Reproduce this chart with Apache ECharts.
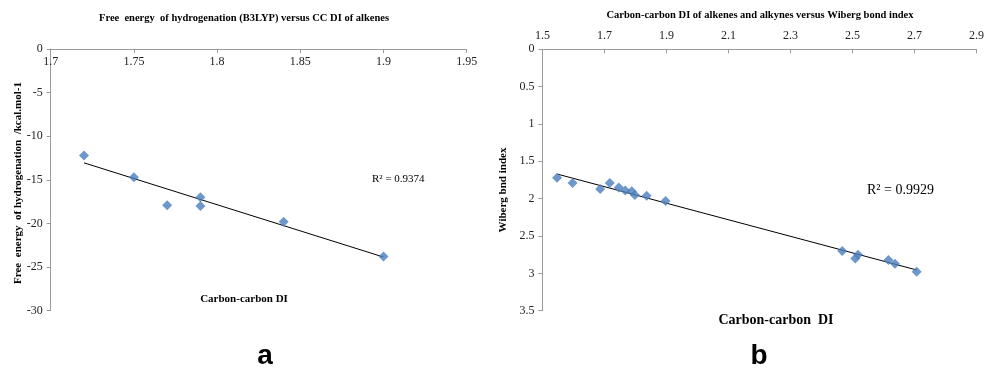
<!DOCTYPE html>
<html>
<head>
<meta charset="utf-8">
<script src="https://cdn.jsdelivr.net/npm/echarts@6/dist/echarts.min.js"></script>
<style>
html,body{margin:0;padding:0;background:#fff;}
#c{width:987px;height:368px;}
</style>
</head>
<body>
<div id="c"></div>
<script>
// Chart a: free energy of hydrogenation vs CC DI of alkenes
var xA = [1.72, 1.75, 1.77, 1.79, 1.79, 1.84, 1.90];
var yA = [-12.2, -14.7, -17.9, -17.0, -18.0, -19.8, -23.8];
var trendAx = [1.72, 1.90];
var trendAy = [-13.05, -23.85];
var r2A = 'R² = 0.9374';

// Chart b: CC DI vs Wiberg bond index
var xB = [1.547, 1.597, 1.686, 1.717, 1.746, 1.767, 1.788, 1.798, 1.836, 1.897, 2.467, 2.509, 2.518, 2.616, 2.637, 2.707];
var yB = [1.72, 1.79, 1.87, 1.79, 1.85, 1.89, 1.90, 1.95, 1.96, 2.03, 2.70, 2.80, 2.75, 2.82, 2.87, 2.98];
var trendBx = [1.547, 2.707];
var trendBy = [1.67, 2.955];
var r2B = 'R² = 0.9929';

var titleA = 'Free  energy  of hydrogenation (B3LYP) versus CC DI of alkenes';
var titleB = 'Carbon-carbon DI of alkenes and alkynes versus Wiberg bond index';
var yNameA = 'Free  energy  of hydrogenation  /kcal.mol-1';
var yNameB = 'Wiberg bnd index';
var xNameA = 'Carbon-carbon DI';
var xNameB = 'Carbon-carbon  DI';

function pairs(xs, ys){ return xs.map(function(x,i){ return [x, ys[i]]; }); }

var serif = '"Liberation Serif", "Times New Roman", serif';
var axisLineStyle = {color:'#9a9a9a', width:1};
var labelStyle = {fontFamily: serif, fontSize: 12, color:'#222'};
function fmt(v){ return String(parseFloat(v.toFixed(2))); }

var chart = echarts.init(document.getElementById('c'), null, {renderer:'canvas'});
chart.setOption({
  animation:false,
  backgroundColor:'#fff',
  grid:[
    {left:50.7, top:49, width:416, height:261.7},
    {left:542.5, top:49.3, width:438, height:261.4}
  ],
  xAxis:[
    {gridIndex:0, type:'value', position:'top', min:1.7, max:1.95, interval:0.05,
     axisLine:{show:true, onZero:false, lineStyle:axisLineStyle},
     axisTick:{show:true, inside:true, length:4, lineStyle:axisLineStyle},
     axisLabel:Object.assign({inside:true, margin:7, formatter:fmt}, labelStyle),
     splitLine:{show:false}},
    {gridIndex:1, type:'value', position:'top', min:1.5, max:2.9, interval:0.2,
     axisLine:{show:true, onZero:false, lineStyle:axisLineStyle},
     axisTick:{show:true, inside:true, length:4, lineStyle:axisLineStyle},
     axisLabel:Object.assign({margin:7, formatter:fmt}, labelStyle),
     splitLine:{show:false}}
  ],
  yAxis:[
    {gridIndex:0, type:'value', min:-30, max:0, interval:5,
     axisLine:{show:true, onZero:false, lineStyle:axisLineStyle},
     axisTick:{show:true, length:4, lineStyle:axisLineStyle},
     axisLabel:Object.assign({margin:8}, labelStyle),
     splitLine:{show:false}},
    {gridIndex:1, type:'value', min:0, max:3.5, interval:0.5, inverse:true,
     axisLine:{show:true, onZero:false, lineStyle:axisLineStyle},
     axisTick:{show:true, length:4, lineStyle:axisLineStyle},
     axisLabel:Object.assign({margin:8, formatter:fmt}, labelStyle),
     splitLine:{show:false}}
  ],
  series:[
    {type:'line', xAxisIndex:0, yAxisIndex:0, data:pairs(trendAx, trendAy), showSymbol:false, symbol:'none',
     lineStyle:{color:'#000', width:1}, z:2},
    {type:'scatter', xAxisIndex:0, yAxisIndex:0, data:pairs(xA, yA), symbol:'diamond', symbolSize:10,
     itemStyle:{color:'#4A7EBB'}, z:3},
    {type:'line', xAxisIndex:1, yAxisIndex:1, data:pairs(trendBx, trendBy), showSymbol:false, symbol:'none',
     lineStyle:{color:'#000', width:1}, z:2},
    {type:'scatter', xAxisIndex:1, yAxisIndex:1, data:pairs(xB, yB), symbol:'diamond', symbolSize:10,
     itemStyle:{color:'#4A7EBB'}, z:3}
  ],
  graphic:[
    {type:'text', x:244, y:18, style:{text:titleA, font:'bold 10.5px '+serif, fill:'#000', textAlign:'center', textVerticalAlign:'middle'}},
    {type:'text', x:760, y:15, style:{text:titleB, font:'bold 10.5px '+serif, fill:'#000', textAlign:'center', textVerticalAlign:'middle'}},
    {type:'text', x:18, y:183, rotation:Math.PI/2, style:{text:yNameA, font:'bold 11px '+serif, fill:'#000', textAlign:'center', textVerticalAlign:'middle'}},
    {type:'text', x:503, y:190, rotation:Math.PI/2, style:{text:yNameB, font:'bold 11px '+serif, fill:'#000', textAlign:'center', textVerticalAlign:'middle'}},
    {type:'text', x:244, y:299, style:{text:xNameA, font:'bold 11px '+serif, fill:'#000', textAlign:'center', textVerticalAlign:'middle'}},
    {type:'text', x:776, y:320, style:{text:xNameB, font:'bold 14px '+serif, fill:'#000', textAlign:'center', textVerticalAlign:'middle'}},
    {type:'text', x:372, y:179, style:{text:r2A, font:'11px '+serif, fill:'#000', textAlign:'left', textVerticalAlign:'middle'}},
    {type:'text', x:867, y:190, style:{text:r2B, font:'14px '+serif, fill:'#000', textAlign:'left', textVerticalAlign:'middle'}},
    {type:'text', x:265, y:356, style:{text:'a', font:'bold 28px "Liberation Sans", Arial, sans-serif', fill:'#000', textAlign:'center', textVerticalAlign:'middle'}},
    {type:'text', x:759, y:356, style:{text:'b', font:'bold 28px "Liberation Sans", Arial, sans-serif', fill:'#000', textAlign:'center', textVerticalAlign:'middle'}}
  ]
});
</script>
</body>
</html>
